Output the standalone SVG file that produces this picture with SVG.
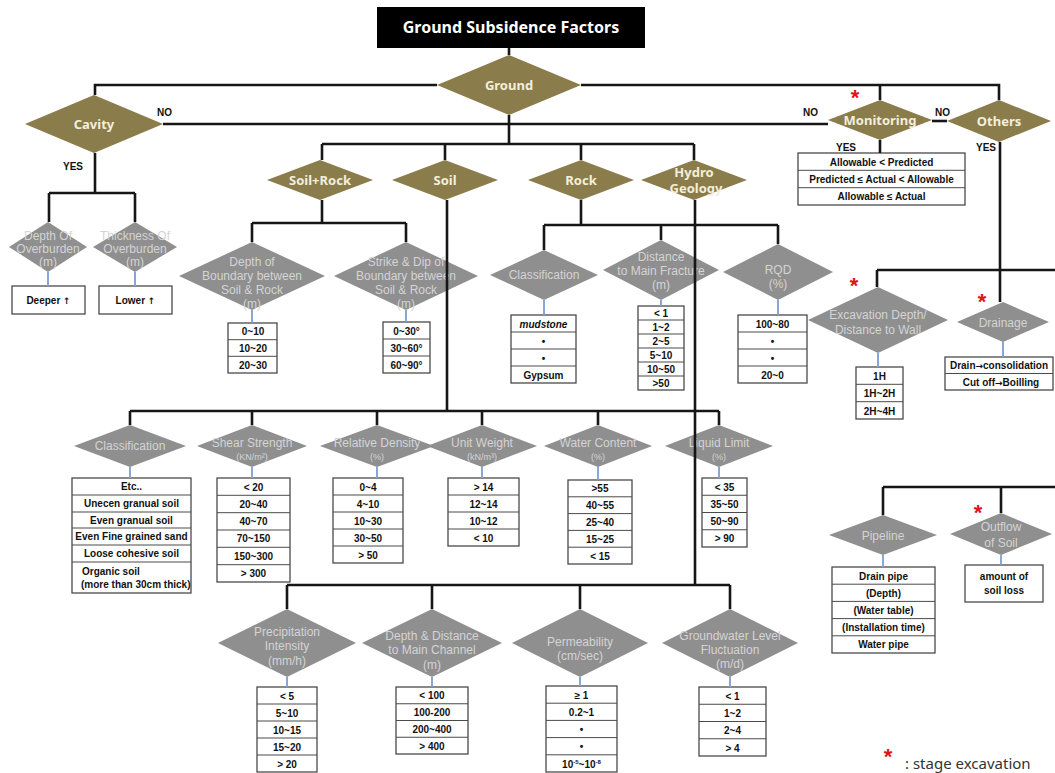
<svg xmlns="http://www.w3.org/2000/svg" width="1055" height="773" viewBox="0 0 1055 773">
<style>
.ln{stroke:#161616;stroke-width:2.6;fill:none}
.bl{stroke:#7c9ed0;stroke-width:1.8;fill:none}
.od{fill:#8b7c4c}
.gd{fill:#8f8f8f}
.ot{fill:#f3efdc;font-family:"Noto Sans","Liberation Sans",sans-serif;font-weight:bold;font-size:13px;text-anchor:middle}
.gt{fill:#d4d4d4;font-family:"Liberation Sans",Arial,sans-serif;font-size:12px;text-anchor:middle}
.gs{fill:#d4d4d4;font-family:"Liberation Sans",Arial,sans-serif;font-size:9px;text-anchor:middle}
.tb{fill:#fff;stroke:#4a4a4a;stroke-width:1.3}
.sp{stroke:#4a4a4a;stroke-width:1}
.tt{fill:#111;font-family:"Liberation Sans",Arial,sans-serif;font-weight:bold;font-size:10px;text-anchor:middle}
.tl{fill:#111;font-family:"Liberation Sans",Arial,sans-serif;font-weight:bold;font-size:10px;text-anchor:start}
.ar{font-family:"DejaVu Sans",sans-serif;font-size:9px}
.lb{fill:#111;font-family:"Liberation Sans",Arial,sans-serif;font-weight:bold;font-size:10px}
.ast{fill:#e01414;font-family:"Liberation Sans",Arial,sans-serif;font-weight:bold;font-size:22px;text-anchor:middle}
</style>

<g id="title">
<rect x="377" y="7" width="268" height="41" fill="#000"/>
<text x="511" y="33" fill="#fff" font-family="Noto Sans, Liberation Sans, sans-serif" font-weight="bold" font-size="16" text-anchor="middle">Ground Subsidence Factors</text>
</g>

<g id="ground"><polygon class="od" points="509,55 581,85 509,115 437,85"/><text class="ot" x="509" y="90">Ground</text></g>
<g id="cavity"><polygon class="od" points="94,95 163,124 94,153 25,124"/><text class="ot" x="94" y="129">Cavity</text></g>
<g id="soilrock"><polygon class="od" points="320,160 373,180 320,200 267,180"/><text class="ot" x="320" y="185">Soil+Rock</text></g>
<g id="soil"><polygon class="od" points="445,160 498,180 445,200 392,180"/><text class="ot" x="445" y="185">Soil</text></g>
<g id="rock"><polygon class="od" points="581,160 634,180 581,200 528,180"/><text class="ot" x="581" y="185">Rock</text></g>
<g id="hydro"><polygon class="od" points="694,160 747,180 694,200 641,180"/><text class="ot" x="694" y="177">Hydro</text><text class="ot" x="696" y="193">Geology</text></g>
<g id="monitoring"><polygon class="od" points="880,100 932,120 880,140 828,120"/><text class="ot" x="880" y="125">Monitoring</text>
<text class="ast" x="855" y="105">*</text>
<rect class="tb" x="798" y="153" width="167" height="52"/>
<line class="sp" x1="798" y1="170.3" x2="965" y2="170.3"/><line class="sp" x1="798" y1="187.7" x2="965" y2="187.7"/>
<text class="tt" x="881.5" y="165.5">Allowable &lt; Predicted</text>
<text class="tt" x="881.5" y="182.5">Predicted ≤ Actual &lt; Allowable</text>
<text class="tt" x="881.5" y="200">Allowable ≤ Actual</text>
</g>
<g id="others"><polygon class="od" points="999,100 1051,121 999,142 947,121"/><text class="ot" x="999" y="126">Others</text></g>

<g id="labels">
<text class="lb" x="157" y="116">NO</text>
<text class="lb" x="63" y="170">YES</text>
<text class="lb" x="803" y="116">NO</text>
<text class="lb" x="935" y="116">NO</text>
<text class="lb" x="836" y="151">YES</text>
<text class="lb" x="976" y="151">YES</text>
</g>

<g id="depth-overburden"><polygon class="gd" points="48,222 87,247 48,272 9,247"/>
<text class="gt" x="48" y="240" font-size="11">Depth Of</text><text class="gt" x="48" y="253" font-size="11">Overburden</text><text class="gt" x="48" y="266" font-size="11">(m)</text>
<rect class="tb" x="12" y="286" width="73" height="28"/><text class="tt" x="48.5" y="304">Deeper <tspan class="ar">↑</tspan></text></g>
<g id="thickness-overburden"><polygon class="gd" points="135,222 177,247 135,272 93,247"/>
<text class="gt" x="135" y="240" font-size="11">Thickness Of</text><text class="gt" x="135" y="253" font-size="11">Overburden</text><text class="gt" x="135" y="266" font-size="11">(m)</text>
<rect class="tb" x="99" y="286" width="73" height="28"/><text class="tt" x="135.5" y="304">Lower <tspan class="ar">↑</tspan></text></g>

<g id="depth-boundary"><polygon class="gd" points="252,242 325,276 252,310 179,276"/>
<text class="gt" x="252" y="266">Depth of</text><text class="gt" x="252" y="280">Boundary between</text><text class="gt" x="252" y="294">Soil &amp; Rock</text><text class="gt" x="252" y="308">(m)</text>
<rect class="tb" x="228" y="323" width="49" height="50"/>
<line class="sp" x1="228" y1="339.7" x2="277" y2="339.7"/><line class="sp" x1="228" y1="356.3" x2="277" y2="356.3"/>
<text class="tt" x="253" y="335">0~10</text><text class="tt" x="253" y="352">10~20</text><text class="tt" x="253" y="368.5">20~30</text></g>

<g id="strike-dip"><polygon class="gd" points="406,242 478,276 406,310 334,276"/>
<text class="gt" x="406" y="266">Strike &amp; Dip of</text><text class="gt" x="406" y="280">Boundary between</text><text class="gt" x="406" y="294">Soil &amp; Rock</text><text class="gt" x="406" y="308">(m)</text>
<rect class="tb" x="383" y="322" width="47" height="51"/>
<line class="sp" x1="383" y1="339" x2="430" y2="339"/><line class="sp" x1="383" y1="356" x2="430" y2="356"/>
<text class="tt" x="406.5" y="334.5">0~30°</text><text class="tt" x="406.5" y="351.5">30~60°</text><text class="tt" x="406.5" y="368.5">60~90°</text></g>

<g id="rock-classification"><polygon class="gd" points="544,250 598,275 544,300 490,275"/>
<text class="gt" x="544" y="279" font-size="13">Classification</text>
<rect class="tb" x="511" y="315" width="65" height="68"/>
<line class="sp" x1="511" y1="332" x2="576" y2="332"/><line class="sp" x1="511" y1="349" x2="576" y2="349"/><line class="sp" x1="511" y1="366" x2="576" y2="366"/>
<text class="tt" x="543.5" y="327.5" font-style="italic">mudstone</text><text class="tt" x="543.5" y="344.5">•</text><text class="tt" x="543.5" y="361.5">•</text><text class="tt" x="543.5" y="378.5">Gypsum</text></g>

<g id="distance-fracture"><polygon class="gd" points="661,240 719,270 661,300 603,270"/>
<text class="gt" x="661" y="261">Distance</text><text class="gt" x="661" y="275">to Main Fracture</text><text class="gt" x="661" y="289">(m)</text>
<rect class="tb" x="638" y="306" width="46" height="84"/>
<line class="sp" x1="638" y1="320" x2="684" y2="320"/><line class="sp" x1="638" y1="334" x2="684" y2="334"/><line class="sp" x1="638" y1="348" x2="684" y2="348"/><line class="sp" x1="638" y1="362" x2="684" y2="362"/><line class="sp" x1="638" y1="376" x2="684" y2="376"/>
<text class="tt" x="661" y="316.5">&lt; 1</text><text class="tt" x="661" y="330.5">1~2</text><text class="tt" x="661" y="344.5">2~5</text><text class="tt" x="661" y="358.5">5~10</text><text class="tt" x="661" y="372.5">10~50</text><text class="tt" x="661" y="386.5">&gt;50</text></g>

<g id="rqd"><polygon class="gd" points="778,244 833,272 778,300 723,272"/>
<text class="gt" x="778" y="274" font-size="13">RQD</text><text class="gt" x="778" y="288">(%)</text>
<rect class="tb" x="738" y="315" width="69" height="68"/>
<line class="sp" x1="738" y1="332" x2="807" y2="332"/><line class="sp" x1="738" y1="349" x2="807" y2="349"/><line class="sp" x1="738" y1="366" x2="807" y2="366"/>
<text class="tt" x="772.5" y="327.5">100~80</text><text class="tt" x="772.5" y="344.5">•</text><text class="tt" x="772.5" y="361.5">•</text><text class="tt" x="772.5" y="378.5">20~0</text></g>

<g id="excavation"><polygon class="gd" points="878,287 948,320 878,353 808,320"/>
<text class="gt" x="878" y="319" font-size="13">Excavation Depth/</text><text class="gt" x="878" y="334" font-size="13">Distance to Wall</text>
<text class="ast" x="854" y="293">*</text>
<rect class="tb" x="856" y="367" width="47" height="52"/>
<line class="sp" x1="856" y1="384.3" x2="903" y2="384.3"/><line class="sp" x1="856" y1="401.7" x2="903" y2="401.7"/>
<text class="tt" x="879.5" y="379.5">1H</text><text class="tt" x="879.5" y="397">1H~2H</text><text class="tt" x="879.5" y="414.5">2H~4H</text></g>

<g id="drainage"><polygon class="gd" points="1003,302 1049,322 1003,342 957,322"/>
<text class="gt" x="1003" y="327" font-size="14">Drainage</text>
<text class="ast" x="982" y="309">*</text>
<rect class="tb" x="945" y="357" width="108" height="33"/>
<line class="sp" x1="945" y1="373.5" x2="1053" y2="373.5"/>
<text class="tt" x="999" y="369">Drain<tspan class="ar">→</tspan>consolidation</text><text class="tt" x="1001" y="385.5">Cut off<tspan class="ar">→</tspan>Boilling</text></g>

<g id="soil-classification"><polygon class="gd" points="130,425 186,446 130,467 74,446"/>
<text class="gt" x="130" y="450" font-size="13">Classification</text>
<rect class="tb" x="72" y="478" width="119" height="115"/>
<line class="sp" x1="72" y1="495" x2="191" y2="495"/><line class="sp" x1="72" y1="512" x2="191" y2="512"/><line class="sp" x1="72" y1="528" x2="191" y2="528"/><line class="sp" x1="72" y1="545" x2="191" y2="545"/><line class="sp" x1="72" y1="562" x2="191" y2="562"/>
<text class="tt" x="131.5" y="490">Etc..</text><text class="tt" x="131.5" y="507">Unecen granual soil</text><text class="tt" x="131.5" y="523.5">Even granual soil</text><text class="tt" x="131.5" y="540">Even Fine grained sand</text><text class="tt" x="131.5" y="557">Loose cohesive soil</text>
<text class="tl" x="82" y="575">Organic soil</text><text class="tl" x="81" y="588">(more than 30cm thick)</text></g>

<g id="shear-strength"><polygon class="gd" points="252,425 307,446 252,467 197,446"/>
<text class="gt" x="252" y="447" font-size="13">Shear Strength</text><text class="gs" x="252" y="460">(KN/m²)</text>
<rect class="tb" x="217" y="478" width="73" height="104"/>
<line class="sp" x1="217" y1="495.3" x2="290" y2="495.3"/><line class="sp" x1="217" y1="512.7" x2="290" y2="512.7"/><line class="sp" x1="217" y1="530" x2="290" y2="530"/><line class="sp" x1="217" y1="547.3" x2="290" y2="547.3"/><line class="sp" x1="217" y1="564.7" x2="290" y2="564.7"/>
<text class="tt" x="253.5" y="490.5">&lt; 20</text><text class="tt" x="253.5" y="507.5">20~40</text><text class="tt" x="253.5" y="525">40~70</text><text class="tt" x="253.5" y="542">70~150</text><text class="tt" x="253.5" y="559.5">150~300</text><text class="tt" x="253.5" y="577">&gt; 300</text></g>

<g id="relative-density"><polygon class="gd" points="377,425 434,446 377,467 320,446"/>
<text class="gt" x="377" y="447" font-size="13">Relative Density</text><text class="gs" x="377" y="460">(%)</text>
<rect class="tb" x="333" y="478" width="70" height="85"/>
<line class="sp" x1="333" y1="495" x2="403" y2="495"/><line class="sp" x1="333" y1="512" x2="403" y2="512"/><line class="sp" x1="333" y1="529" x2="403" y2="529"/><line class="sp" x1="333" y1="546" x2="403" y2="546"/>
<text class="tt" x="368" y="490.5">0~4</text><text class="tt" x="368" y="507.5">4~10</text><text class="tt" x="368" y="524.5">10~30</text><text class="tt" x="368" y="541.5">30~50</text><text class="tt" x="368" y="558.5">&gt; 50</text></g>

<g id="unit-weight"><polygon class="gd" points="482,425 537,446 482,467 427,446"/>
<text class="gt" x="482" y="447" font-size="13">Unit Weight</text><text class="gs" x="482" y="460">(kN/m³)</text>
<rect class="tb" x="448" y="478" width="71" height="68"/>
<line class="sp" x1="448" y1="495" x2="519" y2="495"/><line class="sp" x1="448" y1="512" x2="519" y2="512"/><line class="sp" x1="448" y1="529" x2="519" y2="529"/>
<text class="tt" x="483.5" y="490.5">&gt; 14</text><text class="tt" x="483.5" y="507.5">12~14</text><text class="tt" x="483.5" y="524.5">10~12</text><text class="tt" x="483.5" y="541.5">&lt; 10</text></g>

<g id="water-content"><polygon class="gd" points="598,425 652,446 598,467 544,446"/>
<text class="gt" x="598" y="447" font-size="13">Water Content</text><text class="gs" x="598" y="460">(%)</text>
<rect class="tb" x="568" y="480" width="64" height="84"/>
<line class="sp" x1="568" y1="496.8" x2="632" y2="496.8"/><line class="sp" x1="568" y1="513.6" x2="632" y2="513.6"/><line class="sp" x1="568" y1="530.4" x2="632" y2="530.4"/><line class="sp" x1="568" y1="547.2" x2="632" y2="547.2"/>
<text class="tt" x="600" y="492">&gt;55</text><text class="tt" x="600" y="509">40~55</text><text class="tt" x="600" y="526">25~40</text><text class="tt" x="600" y="542.5">15~25</text><text class="tt" x="600" y="559.5">&lt; 15</text></g>

<g id="liquid-limit"><polygon class="gd" points="719,425 773,446 719,467 665,446"/>
<text class="gt" x="719" y="447" font-size="13">Liquid Limit</text><text class="gs" x="719" y="460">(%)</text>
<rect class="tb" x="702" y="478" width="45" height="69"/>
<line class="sp" x1="702" y1="495.25" x2="747" y2="495.25"/><line class="sp" x1="702" y1="512.5" x2="747" y2="512.5"/><line class="sp" x1="702" y1="529.75" x2="747" y2="529.75"/>
<text class="tt" x="724.5" y="490.5">&lt; 35</text><text class="tt" x="724.5" y="507.5">35~50</text><text class="tt" x="724.5" y="525">50~90</text><text class="tt" x="724.5" y="542">&gt; 90</text></g>

<g id="pipeline"><polygon class="gd" points="883,515 937,535 883,555 829,535"/>
<text class="gt" x="883" y="540" font-size="14">Pipeline</text>
<rect class="tb" x="832" y="567" width="103" height="86"/>
<line class="sp" x1="832" y1="584.2" x2="935" y2="584.2"/><line class="sp" x1="832" y1="601.4" x2="935" y2="601.4"/><line class="sp" x1="832" y1="618.6" x2="935" y2="618.6"/><line class="sp" x1="832" y1="635.8" x2="935" y2="635.8"/>
<text class="tt" x="883.5" y="579.5">Drain pipe</text><text class="tt" x="883.5" y="596.5">(Depth)</text><text class="tt" x="883.5" y="613.5">(Water table)</text><text class="tt" x="883.5" y="631">(Installation time)</text><text class="tt" x="883.5" y="648">Water pipe</text></g>

<g id="outflow"><polygon class="gd" points="1001,513 1052,534 1001,555 950,534"/>
<text class="gt" x="1001" y="531" font-size="14">Outflow</text><text class="gt" x="1001" y="547" font-size="14">of Soil</text>
<text class="ast" x="978" y="520">*</text>
<rect class="tb" x="965" y="565" width="78" height="37"/>
<text class="tt" x="1004" y="580">amount of</text><text class="tt" x="1004" y="594">soil loss</text></g>

<g id="precipitation"><polygon class="gd" points="287,609 356,643 287,677 218,643"/>
<text class="gt" x="287" y="636">Precipitation</text><text class="gt" x="287" y="650">Intensity</text><text class="gt" x="287" y="665">(mm/h)</text>
<rect class="tb" x="257" y="687" width="60" height="85"/>
<line class="sp" x1="257" y1="704" x2="317" y2="704"/><line class="sp" x1="257" y1="721" x2="317" y2="721"/><line class="sp" x1="257" y1="738" x2="317" y2="738"/><line class="sp" x1="257" y1="755" x2="317" y2="755"/>
<text class="tt" x="287" y="699.5">&lt; 5</text><text class="tt" x="287" y="716.5">5~10</text><text class="tt" x="287" y="733.5">10~15</text><text class="tt" x="287" y="750.5">15~20</text><text class="tt" x="287" y="767.5">&gt; 20</text></g>

<g id="depth-distance-channel"><polygon class="gd" points="432,609 502,643 432,677 362,643"/>
<text class="gt" x="432" y="640">Depth &amp; Distance</text><text class="gt" x="432" y="654">to Main Channel</text><text class="gt" x="432" y="669">(m)</text>
<rect class="tb" x="396" y="687" width="72" height="67"/>
<line class="sp" x1="396" y1="703.75" x2="468" y2="703.75"/><line class="sp" x1="396" y1="720.5" x2="468" y2="720.5"/><line class="sp" x1="396" y1="737.25" x2="468" y2="737.25"/>
<text class="tt" x="432" y="699">&lt; 100</text><text class="tt" x="432" y="716">100-200</text><text class="tt" x="432" y="732.5">200~400</text><text class="tt" x="432" y="749.5">&gt; 400</text></g>

<g id="permeability"><polygon class="gd" points="580,609 648,643 580,677 512,643"/>
<text class="gt" x="580" y="646">Permeability</text><text class="gt" x="580" y="660">(cm/sec)</text>
<rect class="tb" x="546" y="686" width="71" height="86"/>
<line class="sp" x1="546" y1="703.2" x2="617" y2="703.2"/><line class="sp" x1="546" y1="720.4" x2="617" y2="720.4"/><line class="sp" x1="546" y1="737.6" x2="617" y2="737.6"/><line class="sp" x1="546" y1="754.8" x2="617" y2="754.8"/>
<text class="tt" x="581.5" y="698.5">≥ 1</text><text class="tt" x="581.5" y="715.5">0.2~1</text><text class="tt" x="581.5" y="733">•</text><text class="tt" x="581.5" y="750">•</text>
<text class="tt" x="581.5" y="767.5">10<tspan font-size="6" dy="-4">-5</tspan><tspan dy="4">~10</tspan><tspan font-size="6" dy="-4">-8</tspan></text></g>

<g id="groundwater"><polygon class="gd" points="730,609 798,643 730,677 662,643"/>
<text class="gt" x="730" y="640">Groundwater Level</text><text class="gt" x="730" y="654">Fluctuation</text><text class="gt" x="730" y="668">(m/d)</text>
<rect class="tb" x="699" y="687" width="67" height="69"/>
<line class="sp" x1="699" y1="704.25" x2="766" y2="704.25"/><line class="sp" x1="699" y1="721.5" x2="766" y2="721.5"/><line class="sp" x1="699" y1="738.75" x2="766" y2="738.75"/>
<text class="tt" x="732.5" y="699.5">&lt; 1</text><text class="tt" x="732.5" y="717">1~2</text><text class="tt" x="732.5" y="734">2~4</text><text class="tt" x="732.5" y="751.5">&gt; 4</text></g>

<g id="legend">
<text class="ast" x="888" y="764">*</text>
<text x="905" y="769" fill="#333" font-family="Noto Sans, Liberation Sans, sans-serif" font-size="15">: stage excavation</text>
</g>

<g id="connectors">
<path class="ln" d="M509,48V55"/>
<path class="ln" d="M437,85H95V95"/>
<path class="ln" d="M163,124H828"/>
<path class="ln" d="M581,85H999V100M880,85V100"/>
<path class="ln" d="M932,121H947"/>
<path class="ln" d="M880,140V153"/>
<path class="ln" d="M95,153V193M49,193H135M49,193V222M135,193V222"/>
<path class="ln" d="M509,115V144M322,144H694M322,144V160M445,144V160M581,144V160M694,144V160"/>
<path class="ln" d="M322,200V223M252,223H406M252,223V242M406,223V242"/>
<path class="ln" d="M447,200V411M130,411H719M130,411V425M252,411V425M377,411V425M482,411V425M598,411V425M719,411V425"/>
<path class="ln" d="M581,200V225M544,225H778M544,225V250M661,225V240M778,225V244"/>
<path class="ln" d="M695,200V585M287,585H730M287,585V609M432,585V609M580,585V609M730,585V609"/>
<path class="ln" d="M1000,142V302M877,270H1055M877,270V287"/>
<path class="ln" d="M883,487H1055M883,487V515M1001,487V513"/>
<path class="bl" d="M48,272V286M135,272V286M252,310V323M406,310V322M544,300V315M661,300V306M778,300V315M878,353V367M1003,342V357M130,467V478M252,467V478M377,467V478M482,467V478M598,467V480M719,467V478M883,555V567M1001,555V565M287,677V687M432,677V687M580,677V686M730,677V687"/>
</g>
</svg>
